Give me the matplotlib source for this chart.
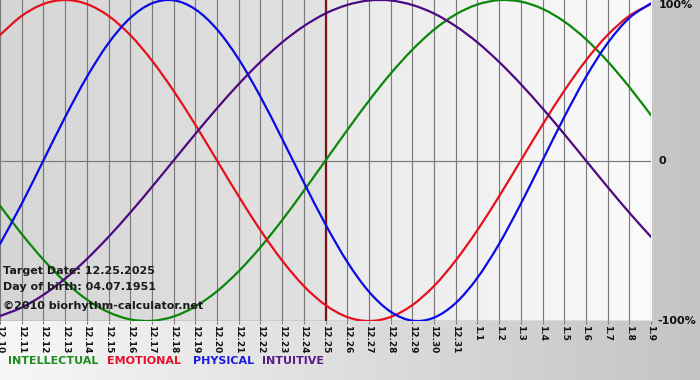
import numpy as np
import matplotlib
matplotlib.use("Agg")
import matplotlib.pyplot as plt
from matplotlib.path import Path
from matplotlib.patches import PathPatch
from matplotlib.colors import to_rgb
import matplotlib.transforms as mtransforms

# ---- data (one value per day) ----
dates = ["12.10", "12.11", "12.12", "12.13", "12.14", "12.15", "12.16", "12.17",
         "12.18", "12.19", "12.20", "12.21", "12.22", "12.23", "12.24", "12.25",
         "12.26", "12.27", "12.28", "12.29", "12.30", "12.31", "1.1", "1.2", "1.3",
         "1.4", "1.5", "1.6", "1.7", "1.8", "1.9"]
target_index = 15  # 12.25

intellectual = [-0.282, -0.458, -0.618, -0.756, -0.866, -0.945, -0.990, -0.999, -0.972,
                -0.910, -0.815, -0.690, -0.541, -0.372, -0.189, 0.000, 0.189, 0.372,
                0.541, 0.690, 0.815, 0.910, 0.972, 0.999, 0.990, 0.945, 0.866, 0.756,
                0.618, 0.458, 0.282]
emotional = [0.782, 0.901, 0.975, 1.000, 0.975, 0.901, 0.782, 0.623, 0.434, 0.223,
             0.000, -0.223, -0.434, -0.623, -0.782, -0.901, -0.975, -1.000, -0.975,
             -0.901, -0.782, -0.623, -0.434, -0.223, 0.000, 0.223, 0.434, 0.623,
             0.782, 0.901, 0.975]
physical = [-0.520, -0.270, 0.000, 0.270, 0.520, 0.731, 0.888, 0.979, 0.998, 0.942,
            0.817, 0.631, 0.398, 0.136, -0.136, -0.398, -0.631, -0.817, -0.942,
            -0.998, -0.979, -0.888, -0.731, -0.520, -0.270, 0.000, 0.270, 0.520,
            0.731, 0.888, 0.979]
intuitive = [-0.969, -0.916, -0.837, -0.736, -0.614, -0.476, -0.325, -0.165, 0.000,
             0.165, 0.325, 0.476, 0.614, 0.736, 0.837, 0.916, 0.969, 0.997, 0.997,
             0.969, 0.916, 0.837, 0.736, 0.614, 0.476, 0.325, 0.165, 0.000, -0.165,
             -0.325, -0.476]

series_names = ["INTELLECTUAL", "EMOTIONAL", "PHYSICAL", "INTUITIVE"]
series_values = [intellectual, emotional, physical, intuitive]
line_colors = ["#0a870a", "#e8101e", "#0a0ae6", "#4b0a82"]
text_colors = ["#1c8c1c", "#e8102a", "#1a1ae0", "#5a1a8a"]

info_lines = ["Target Date: 12.25.2025", "Day of birth: 04.07.1951",
              "\u00a92010 biorhythm-calculator.net"]

W, H = 700, 380
fig = plt.figure(figsize=(W / 100, H / 100), dpi=100)

# figure background gradient
bg = fig.add_axes([0, 0, 1, 1], zorder=-10)
c0, c1 = np.array(to_rgb("#f7f7f7")), np.array(to_rgb("#c4c4c4"))
t = np.linspace(0, 1, 256)
grad = (c0[None, :] * (1 - t[:, None]) + c1[None, :] * t[:, None])[None, :, :]
bg.imshow(grad, aspect="auto", extent=(0, 1, 0, 1))
bg.set_xlim(0, 1); bg.set_ylim(0, 1)
bg.axis("off")

px_right = 651
px_bottom = 321
ax = fig.add_axes([0, (H - px_bottom) / H, px_right / W, px_bottom / H])
ax.patch.set_alpha(0)
n = len(dates)
x = np.arange(n)

def hgrad(ca, cb):
    a, b = np.array(to_rgb(ca)), np.array(to_rgb(cb))
    tt = np.linspace(0, 1, 128)
    return (a[None, :] * (1 - tt[:, None]) + b[None, :] * tt[:, None])[None, :, :]

ax.imshow(hgrad("#d6d6d6", "#e2e2e2"), aspect="auto",
          extent=(0, target_index, -1, 1.0), zorder=0)
ax.imshow(hgrad("#e9e9e9", "#fbfbfb"), aspect="auto",
          extent=(target_index, n - 1, -1, 1.0), zorder=0)

# grid
for xi in x:
    ax.axvline(xi, color="#7a7a7a", lw=0.85, zorder=1)
ax.axhline(0, color="#7a7a7a", lw=0.85, zorder=1)
ax.axhline(-1, color="#7a7a7a", lw=1.0, zorder=1)

# target date line
ax.axvline(target_index, color="#7a1414", lw=1.6, zorder=2)

def smooth_patch(xs, ys, color):
    pts = np.column_stack([xs, ys]).astype(float)
    m = len(pts)
    verts = [pts[0]]
    codes = [Path.MOVETO]
    for i in range(m - 1):
        p0 = pts[i - 1] if i > 0 else pts[i]
        p1 = pts[i]
        p2 = pts[i + 1]
        p3 = pts[i + 2] if i + 2 < m else pts[i + 1]
        verts += [p1 + (p2 - p0) / 6.0, p2 - (p3 - p1) / 6.0, p2]
        codes += [Path.CURVE4] * 3
    return PathPatch(Path(verts, codes), fill=False, edgecolor=color, lw=1.6,
                     zorder=3, capstyle="round", joinstyle="round")

for vals, col in zip(series_values, line_colors):
    ax.add_patch(smooth_patch(x, vals, col))

ax.set_xlim(0, n - 1)
ax.set_ylim(-1, 1.0)
ax.set_yticks([])
ax.set_xticks(x)
ax.set_xticklabels(dates, rotation=270, fontsize=6.5, fontweight="bold",
                   color="#111111")
ax.tick_params(axis="x", length=2, width=0.8, color="#7a7a7a", pad=1)
for s in ax.spines.values():
    s.set_visible(False)

# right side labels
trans = mtransforms.blended_transform_factory(ax.transAxes, ax.transData)
ax.text(1.012, 1.0, "100%", transform=trans, ha="left", va="top",
        fontsize=8, fontweight="bold", color="#111111", clip_on=False)
ax.text(1.012, 0.0, "0", transform=trans, ha="left", va="center",
        fontsize=8, fontweight="bold", color="#111111", clip_on=False)
ax.text(1.010, -1.0, "-100%", transform=trans, ha="left", va="center",
        fontsize=8, fontweight="bold", color="#111111", clip_on=False)

# info text
for txt, ypix in zip(info_lines, [271, 287, 306]):
    fig.text(3 / W, 1 - ypix / H, txt, ha="left", va="center", fontsize=8,
             fontweight="bold", color="#1a1a1a", zorder=5)

# legend words
for name, col, xpix in zip(series_names, text_colors, [8, 107, 193, 262]):
    fig.text(xpix / W, 1 - 361 / H, name, ha="left", va="center", fontsize=8,
             fontweight="bold", color=col)

fig.savefig("out.png", dpi=100)
